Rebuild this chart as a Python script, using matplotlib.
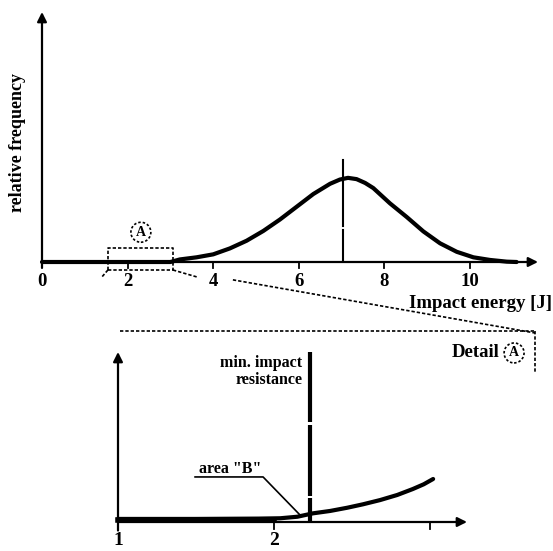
import matplotlib
matplotlib.use("Agg")
import matplotlib.pyplot as plt

plt.rcParams['font.family'] = ['Liberation Serif', 'DejaVu Serif']
plt.rcParams['font.weight'] = 'bold'

# top chart: distribution of impact energy (relative frequency, peak = 1)
energy = [0, 1, 2, 3.0, 3.22, 3.61, 4.0, 4.39, 4.78, 5.17, 5.56, 5.95, 6.34, 6.73,
          6.96, 7.15, 7.35, 7.55, 7.74, 8.13, 8.52, 8.91, 9.30, 9.69, 10.08, 10.47,
          10.86, 11.09]
freq = [0, 0, 0, 0, 0.03, 0.055, 0.09, 0.16, 0.25, 0.365, 0.50, 0.65, 0.80, 0.92,
        0.97, 0.99, 0.975, 0.93, 0.87, 0.69, 0.53, 0.36, 0.22, 0.12, 0.055, 0.024,
        0.004, 0]
top_ticks = [0, 2, 4, 6, 8, 10]
mean_energy = 7.03

# bottom chart: detail A
det_x = [1.0, 1.5, 1.9, 2.04, 2.15, 2.25, 2.36, 2.47, 2.57, 2.68, 2.79, 2.89, 2.96, 3.02]
det_y = [0.018, 0.018, 0.02, 0.022, 0.031, 0.051, 0.065, 0.084, 0.104, 0.129, 0.159,
         0.194, 0.222, 0.253]
det_ticks = [1, 2, 3]
det_labels = ["1", "2", ""]
min_resist = 2.23

fig = plt.figure(figsize=(5.53, 5.51), dpi=100)
W, H = 553, 551

# ---------- top chart ----------
ax = fig.add_axes([42 / W, (H - 262) / H, 496 / W, 250 / H])
xmax = 496 / 42.8
ax.set_xlim(0, xmax)
ax.set_ylim(0, 250 / 85)
ax.axis('off')
arr = dict(arrowstyle='-|>', lw=1.6, color='k', mutation_scale=14, shrinkA=0, shrinkB=0)
ax.annotate('', xy=(xmax, 0), xytext=(0, 0), arrowprops=arr, annotation_clip=False)
ax.annotate('', xy=(0, 250 / 85), xytext=(0, -0.07), arrowprops=arr, annotation_clip=False)
ax.plot(energy, freq, color='k', lw=3, solid_capstyle='round', solid_joinstyle='round',
        clip_on=False)
for t in top_ticks:
    if t > 0:
        ax.plot([t, t], [0, -0.07], color='k', lw=1.3, clip_on=False)
    ax.text(t, -0.235, str(t), ha='center', va='center', fontsize=13.5, fontweight='bold')
# mean line with small gap
ax.plot([mean_energy, mean_energy], [0, 0.38], color='k', lw=1.5)
ax.plot([mean_energy, mean_energy], [0.42, 1.2], color='k', lw=1.5, clip_on=False)

# dashed box "A" and the lines leading to the detail
dk = dict(color='k', lw=1.2, ls=(0, (2, 1.2)), clip_on=False)
bx0, bx1, by0, by1 = 1.54, 3.06, -0.094, 0.165
ax.plot([bx0, bx1, bx1, bx0, bx0], [by0, by0, by1, by1, by0], **dk)
ax.plot([bx0, 1.40], [by0, -0.176], **dk)
ax.plot([bx1, 3.62], [by0, -0.176], **dk)
ax.plot([4.46, 11.52], [-0.21, -0.835], **dk)
ax.plot([1.82, 11.52], [-0.81, -0.81], **dk)
ax.plot([11.52, 11.52], [-0.81, -1.29], **dk)
circ = dict(boxstyle='circle,pad=0.25', fc='none', ec='k', ls=(0, (1.5, 1.2)), lw=1.2)
ax.text(2.31, 0.35, 'A', ha='center', va='center', fontsize=10, fontweight='bold', bbox=circ)
ax.text(11.03, -1.07, 'A', ha='center', va='center', fontsize=10, fontweight='bold', bbox=circ)
ax.text(10.70, -1.07, 'Detail', ha='right', va='center', fontsize=13.5, fontweight='bold')

fig.text(18 / W, 1 - 142 / H, 'relative frequency', rotation=90, ha='center', va='center',
         fontsize=13, fontweight='bold')
fig.text(552 / W, 1 - 303 / H, 'Impact energy [J]', ha='right', va='center',
         fontsize=13.5, fontweight='bold')

# ---------- bottom chart (detail A) ----------
ax2 = fig.add_axes([118 / W, (H - 522) / H, 349 / W, 170 / H])
x2max = 1 + 349 / 156
ax2.set_xlim(1, x2max)
ax2.set_ylim(0, 1)
ax2.axis('off')
ax2.annotate('', xy=(x2max, 0), xytext=(1, 0), arrowprops=arr, annotation_clip=False)
ax2.annotate('', xy=(1, 1.0), xytext=(1, -0.05), arrowprops=arr, annotation_clip=False)
ax2.plot(det_x, det_y, color='k', lw=3, solid_capstyle='round', solid_joinstyle='round',
         clip_on=False)
ax2.plot([1, 2.0], [0.014, 0.014], color='k', lw=4, clip_on=False)
for t, lab in zip(det_ticks, det_labels):
    if t > 1:
        ax2.plot([t, t], [0, -0.04], color='k', lw=1.3, clip_on=False)
    ax2.text(t, -0.11, lab, ha='center', va='center', fontsize=14, fontweight='bold')
# min. impact resistance line with gaps
for y0, y1 in [(0, 0.14), (0.155, 0.57), (0.59, 1.0)]:
    ax2.plot([min_resist, min_resist], [y0, y1], color='k', lw=3, solid_capstyle='butt',
             clip_on=False)
ax2.text(2.18, 0.885, 'min. impact\nresistance', ha='right', va='center',
         multialignment='right', fontsize=11.5, fontweight='bold', linespacing=1.1)
ax2.text(1.72, 0.31, 'area "B"', ha='center', va='center', fontsize=11.5, fontweight='bold')
ax2.plot([1.494, 1.93, 2.167], [0.265, 0.265, 0.041], color='k', lw=1.2, clip_on=False)

fig.savefig('out.png', dpi=100, facecolor='white')
